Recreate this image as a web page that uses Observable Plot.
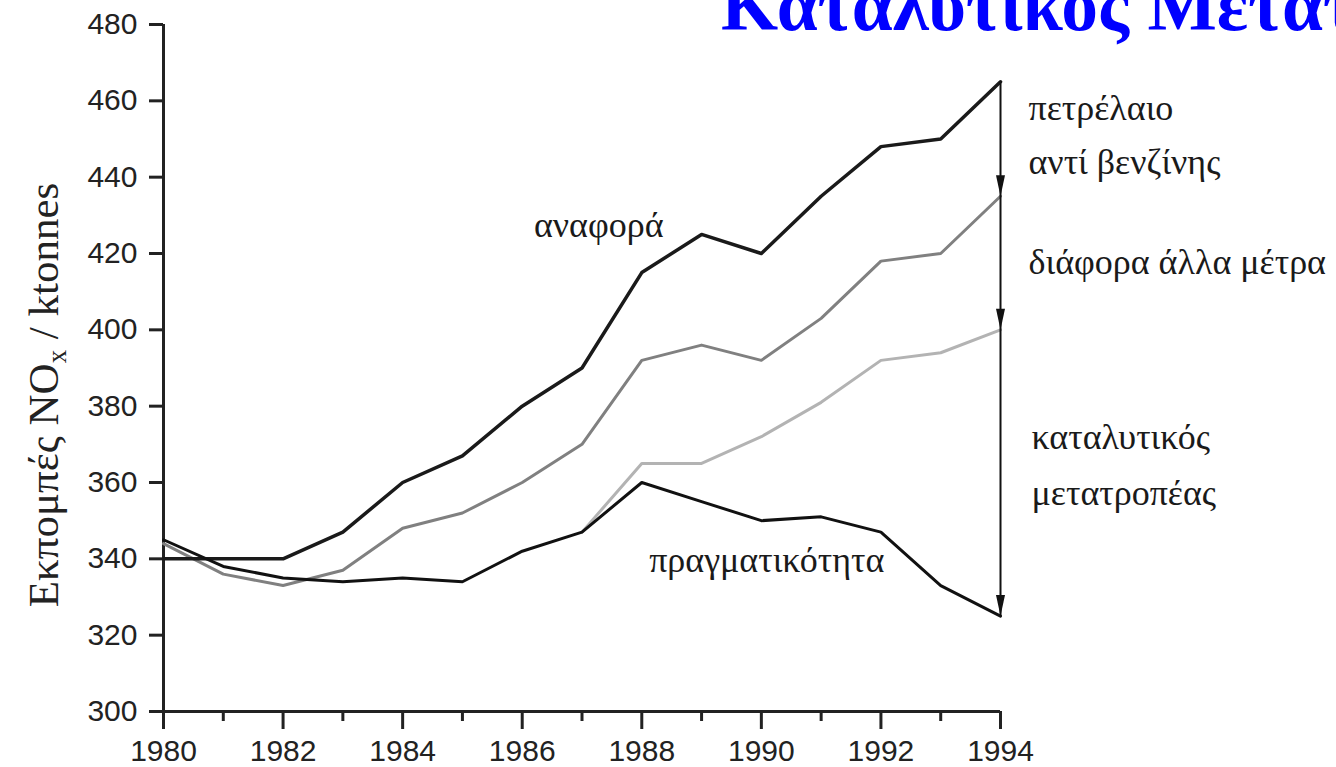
<!DOCTYPE html>
<html><head><meta charset="utf-8">
<script src="https://cdn.jsdelivr.net/npm/d3@7"></script>
<script src="https://cdn.jsdelivr.net/npm/@observablehq/plot@0.6"></script>
<style>
html,body{margin:0;padding:0;background:#fff;overflow:hidden;}
#wrap{position:relative;width:1336px;height:767px;overflow:hidden;background:#fff;}
#chart{position:absolute;left:0;top:0;}
#title{position:absolute;left:721px;top:-31px;font-family:"Liberation Serif","Times New Roman",serif;font-weight:bold;font-size:73.5px;color:#0000ff;white-space:nowrap;line-height:1;}
#ylabel{position:absolute;width:500px;left:-206px;top:374px;height:42px;line-height:42px;text-align:center;transform:rotate(-90deg);font-family:"Liberation Serif","Times New Roman",serif;font-size:43px;color:#222;white-space:nowrap;}
#ylabel sub{font-size:0.62em;vertical-align:-0.3em;line-height:0;}
</style></head>
<body><div id="wrap"><div id="chart"></div><div id="ylabel">Εκπομπές NO<sub>x</sub> / ktonnes</div><div id="title">Καταλυτικός Μετατροπέας</div></div>
<script>
const years = [1980,1981,1982,1983,1984,1985,1986,1987,1988,1989,1990,1991,1992,1993,1994];
const reference = [340,340,340,347,360,367,380,390,415,425,420,435,448,450,465];
const dieselInstead = [344,336,333,337,348,352,360,370,392,396,392,403,418,420,435];
const otherMeasures = [null,null,null,null,null,null,null,347,365,365,372,381,392,394,400];
const reality = [345,338,335,334,335,334,342,347,360,355,350,351,347,333,325];
const xTicks = [1980,1982,1984,1986,1988,1990,1992,1994];
const xMinorTicks = [1981,1983,1985,1987,1989,1991,1993];
const yTicks = [300,320,340,360,380,400,420,440,460,480];
const labelReference = "αναφορά";
const labelReality = "πραγματικότητα";
const labelDiesel = ["πετρέλαιο", "αντί βενζίνης"];
const labelOther = "διάφορα άλλα μέτρα";
const labelCatalyst = ["καταλυτικός", "μετατροπέας"];

const rows = years.map((year, i) => ({year, reference: reference[i], diesel: dieselInstead[i], other: otherMeasures[i], reality: reality[i]}));
const last = years.length - 1;
const lastYear = years[last];

const triangle = {
  draw(context, l) {
    context.moveTo(0, -l);
    context.lineTo(-4.5, 0);
    context.lineTo(4.5, 0);
    context.closePath();
  }
};

const serif = "Liberation Serif, Times New Roman, serif";
const annot = {fontFamily: serif, fontSize: 36, fill: "#1a1a1a"};

const plot = Plot.plot({
  width: 1336, height: 767,
  marginLeft: 163, marginRight: 336, marginTop: 24, marginBottom: 56,
  x: {domain: [years[0], lastYear]},
  y: {domain: [yTicks[0], yTicks[yTicks.length - 1]]},
  style: {fontFamily: "Liberation Sans, Arial, sans-serif", fontSize: "30px", color: "#222", background: "#fff", overflow: "visible"},
  marks: [
    Plot.axisY({ticks: yTicks, tickSize: 14, tickPadding: 12, strokeWidth: 3, label: null, tickFormat: d => String(d)}),
    Plot.axisX({ticks: xTicks, tickSize: 18, tickPadding: 10, strokeWidth: 3, label: null, tickFormat: d => String(d)}),
    Plot.axisX({ticks: xMinorTicks, tickSize: 10, strokeWidth: 3, label: null, tickFormat: () => ""}),
    Plot.ruleX([years[0]], {stroke: "#222", strokeWidth: 3}),
    Plot.ruleY([yTicks[0]], {stroke: "#222", strokeWidth: 3}),
    Plot.line(rows, {x: "year", y: "other", stroke: "#b3b3b3", strokeWidth: 3}),
    Plot.line(rows, {x: "year", y: "diesel", stroke: "#808080", strokeWidth: 3}),
    Plot.line(rows, {x: "year", y: "reference", stroke: "#1a1a1a", strokeWidth: 3.5}),
    Plot.line(rows, {x: "year", y: "reality", stroke: "#111", strokeWidth: 3}),
    Plot.ruleX([lastYear], {y1: reference[last], y2: reality[last], stroke: "#111", strokeWidth: 2}),
    Plot.vector([dieselInstead[last], otherMeasures[last], reality[last]], {
      x: () => lastYear, y: d => d, length: 21, rotate: 180, anchor: "end",
      shape: triangle, fill: "#111", stroke: "none"
    }),
    Plot.text([labelReference], {x: 1987.28, y: 427.3, text: d => d, textAnchor: "middle", lineAnchor: "middle", ...annot}),
    Plot.text([labelReality], {x: 1990.09, y: 339.5, text: d => d, textAnchor: "middle", lineAnchor: "middle", ...annot}),
    Plot.text([labelDiesel[0]], {x: lastYear, y: 457.9, dx: 28, text: d => d, textAnchor: "start", lineAnchor: "middle", ...annot}),
    Plot.text([labelDiesel[1]], {x: lastYear, y: 443.9, dx: 28, text: d => d, textAnchor: "start", lineAnchor: "middle", ...annot}),
    Plot.text([labelOther], {x: lastYear, y: 417.7, dx: 28, text: d => d, textAnchor: "start", lineAnchor: "middle", ...annot}),
    Plot.text([labelCatalyst[0]], {x: lastYear, y: 371.8, dx: 31, text: d => d, textAnchor: "start", lineAnchor: "middle", ...annot}),
    Plot.text([labelCatalyst[1]], {x: lastYear, y: 357.0, dx: 31, text: d => d, textAnchor: "start", lineAnchor: "middle", ...annot})
  ]
});
document.getElementById("chart").appendChild(plot);
</script>
</body></html>
